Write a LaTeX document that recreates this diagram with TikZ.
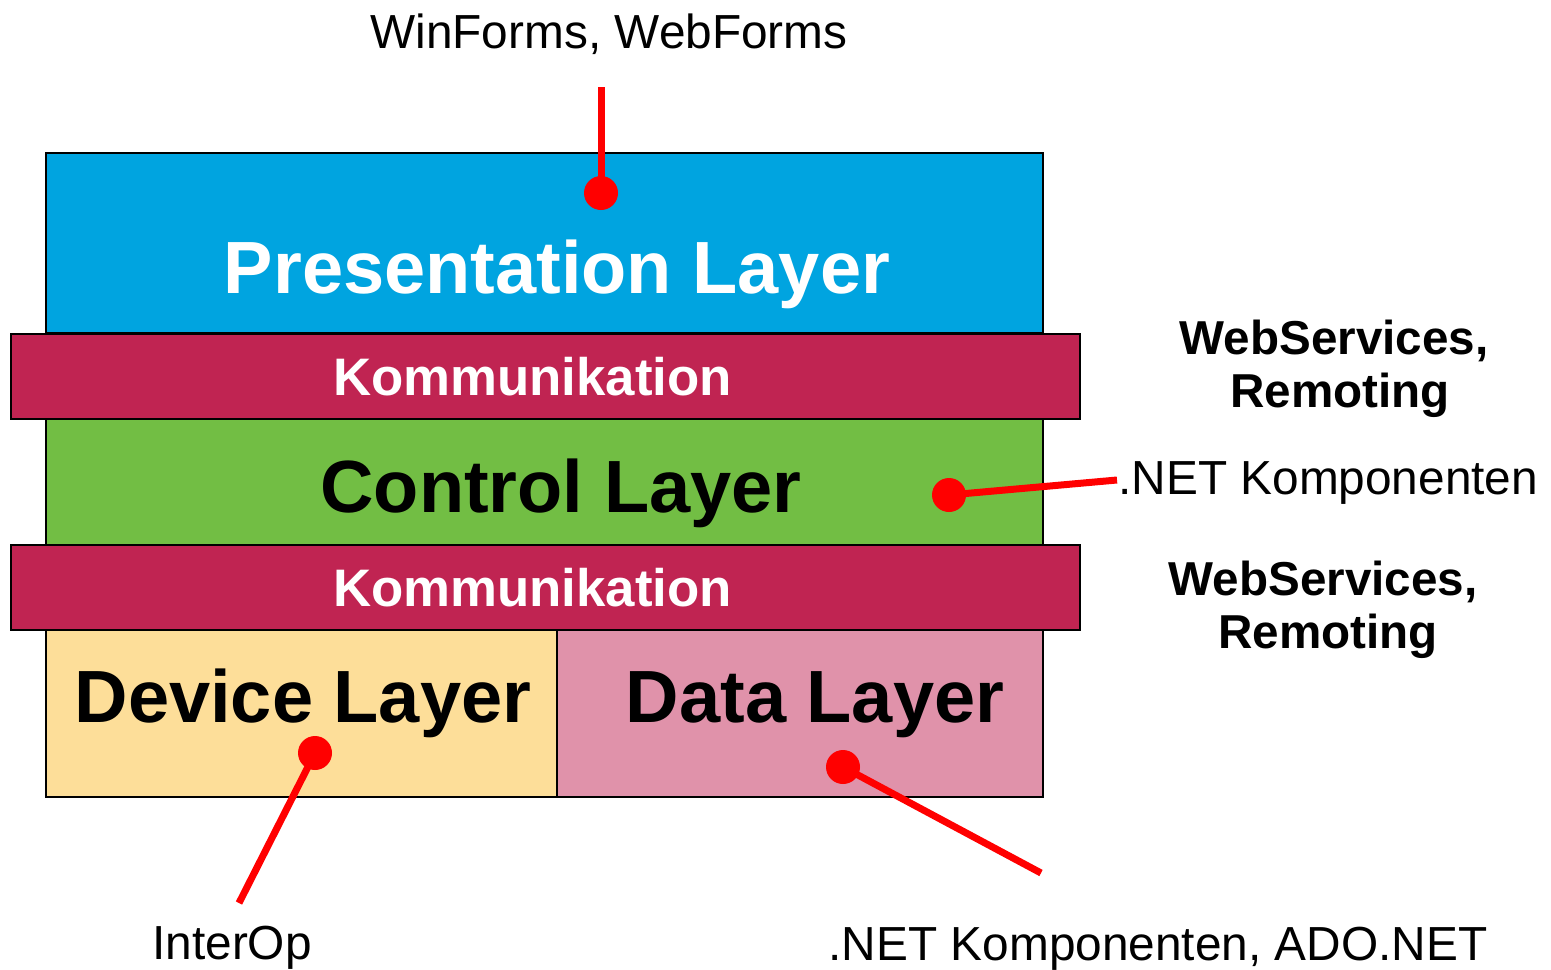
\documentclass[tikz,border=0pt]{standalone}
\usepackage{fontspec}
\setmainfont{Liberation Sans}
\definecolor{pblue}{RGB}{0,164,224}
\definecolor{kred}{RGB}{192,36,82}
\definecolor{cgreen}{RGB}{114,190,68}
\definecolor{dyellow}{RGB}{253,222,153}
\definecolor{dpink}{RGB}{224,146,170}
\definecolor{lred}{RGB}{255,0,0}
\begin{document}
\begin{tikzpicture}[x=0.5pt,y=-0.5pt,
  layerbox/.style={draw=black,line width=1pt,rectangle,inner sep=0pt,outer sep=0pt},
  bigtxt/.style={anchor=base,inner sep=0pt,font=\fontsize{37}{44}\selectfont\bfseries},
  komtxt/.style={anchor=base,inner sep=0pt,text=white,font=\fontsize{26.4}{31}\selectfont\bfseries},
  sidetxt/.style={anchor=base,inner sep=0pt,align=center,font=\fontsize{23.8}{26.5}\selectfont\bfseries},
  lbltxt/.style={anchor=base,inner sep=0pt,font=\fontsize{23.9}{28}\selectfont},
  dot/.style={circle,fill=lred,inner sep=0pt,minimum size=17pt},
  pointer/.style={draw=lred,line width=3.5pt}]
\useasboundingbox (0,0) rectangle (1551,969);
% layers
\node[layerbox,fill=pblue,minimum width=498.5pt,minimum height=90pt] (pres) at (544.5,243) {};
\node[layerbox,fill=cgreen,minimum width=498.5pt,minimum height=63pt] (ctrl) at (544.5,482) {};
\node[layerbox,fill=dyellow,minimum width=255.5pt,minimum height=83.5pt] (dev) at (301.5,713.5) {};
\node[layerbox,fill=dpink,minimum width=243pt,minimum height=83.5pt] (data) at (800,713.5) {};
\node[layerbox,fill=kred,minimum width=534.5pt,minimum height=42.5pt] (kom1) at (545.5,376.5) {};
\node[layerbox,fill=kred,minimum width=534.5pt,minimum height=42.5pt] (kom2) at (545.5,587.5) {};
% layer texts
\node[bigtxt,text=white] (prestxt) at (557,293) {Presentation Layer};
\node[komtxt] (kom1txt) at (532.5,395) {Kommunikation};
\node[bigtxt] (ctrltxt) at (561,512) {Control Layer};
\node[komtxt] (kom2txt) at (532.5,606) {Kommunikation};
\node[bigtxt] (devtxt) at (303,722) {Device Layer};
\node[bigtxt] (datatxt) at (815,722) {Data Layer};
% side texts
\node[sidetxt] (ws1) at (1334,407) {WebServices,\\\hspace*{6pt}Remoting};
\node[sidetxt] (ws2) at (1323,648) {WebServices,\\\hspace*{5pt}Remoting};
% labels
\node[lbltxt] (winforms) at (609,48) {WinForms, WebForms};
\node[lbltxt,anchor=base west] (netk) at (1118,494) {.NET Komponenten};
\node[lbltxt] (interop) at (232,959) {InterOp};
\node[lbltxt] (ado) at (1158,960) {.NET Komponenten, ADO.NET};
% pointers
\node[dot] (d1) at (601,193) {};
\node[dot] (d2) at (949,495) {};
\node[dot] (d3) at (315,753) {};
\node[dot] (d4) at (843,767) {};
\coordinate (e1) at (601,87);
\coordinate (e2) at (1117,480);
\coordinate (e3) at (239,903);
\coordinate (e4) at (1041,873);
\draw[pointer] (e1) -- (d1.center);
\draw[pointer] (d2.center) -- (e2);
\draw[pointer] (d3.center) -- (e3);
\draw[pointer] (d4.center) -- (e4);
\end{tikzpicture}
\end{document}
